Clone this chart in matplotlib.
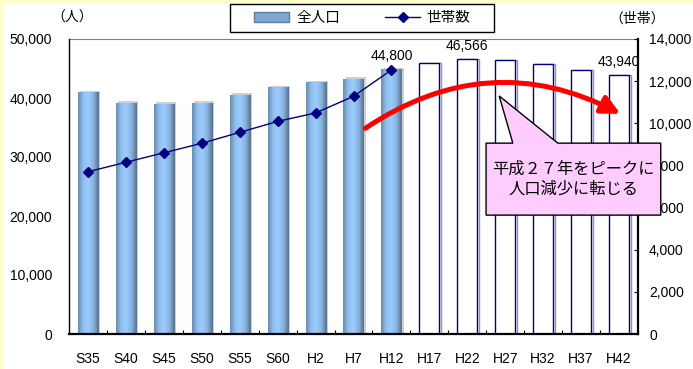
import numpy as np
import matplotlib
matplotlib.use("Agg")
import matplotlib.pyplot as plt
from matplotlib.patches import Polygon, Rectangle, Patch, FancyArrowPatch
from matplotlib.lines import Line2D
from matplotlib.colors import LinearSegmentedColormap
from matplotlib.ticker import FuncFormatter, MultipleLocator

plt.rcParams['font.family'] = ['Liberation Sans', 'Noto Sans CJK JP', 'DejaVu Sans']

# ---- data ----
categories = ['S35', 'S40', 'S45', 'S50', 'S55', 'S60', 'H2', 'H7', 'H12',
              'H17', 'H22', 'H27', 'H32', 'H37', 'H42']
population = [40850, 39150, 38950, 39150, 40500, 41700, 42650, 43200, 44800,
              46000, 46566, 46400, 45700, 44800, 43940]
is_projection = [False]*9 + [True]*6
households = [7700, 8150, 8600, 9050, 9570, 10090, 10490, 11280, 12530]
labelled = {'H12': '44,800', 'H22': '46,566', 'H42': '43,940'}
left_label = '（人）'
right_label = '（世帯）'
legend_labels = ['全人口', '世帯数']
callout_text = '平成２７年をピークに\n人口減少に転じる'

W, H = 693, 369
fig = plt.figure(figsize=(W/100, H/100), dpi=100)
fig.patch.set_facecolor('#FFFFCC')
fig.add_artist(Rectangle((4/W, 0), 1, 1 - 4/H, transform=fig.transFigure,
                         facecolor='white', edgecolor='none', zorder=-10))

L, R, T, B = 69, 638, 39, 334
ax = fig.add_axes([L/W, 1 - B/H, (R-L)/W, (B-T)/H])
ax.set_facecolor('none')
x = np.arange(len(categories))
bw = 0.53

cmap = LinearSegmentedColormap.from_list('bar', ['#6A8CB0', '#92C0EE', '#99CCFF', '#88B2DC', '#56718E'])
grad = np.linspace(0, 1, 64).reshape(1, -1)
for xi, v, proj in zip(x, population, is_projection):
    if proj:
        ax.add_patch(Rectangle((xi - bw/2 + 0.04, 0), bw, v, facecolor='none', edgecolor='#9090D0',
                               lw=1.0, zorder=1.5))
        ax.bar(xi, v, width=bw, facecolor='white', edgecolor='#000080', linewidth=1.0, zorder=2)
    else:
        ax.add_patch(Rectangle((xi - bw/2 + 0.06, 0), bw, v + 300, facecolor='#CFCFCF', edgecolor='none', zorder=1))
        ax.imshow(grad, cmap=cmap, extent=(xi - bw/2, xi + bw/2, 0, v), aspect='auto', zorder=2)

ax.set_xlim(-0.5, len(categories) - 0.5)
ax.set_ylim(0, 50000)
ax.yaxis.set_major_locator(MultipleLocator(10000))
ax.yaxis.set_major_formatter(FuncFormatter(lambda v, p: f'{int(v):,}'))
ax.set_xticks(x)
ax.set_xticklabels(categories)
ax.set_xticks(np.arange(len(categories) + 1) - 0.5, minor=True)
ax.tick_params(axis='x', which='major', length=0, pad=13, labelsize=10)
ax.tick_params(axis='x', which='minor', length=3, direction='in', width=0.8)
ax.tick_params(axis='y', length=0, pad=12, labelsize=10)
for s in ['top', 'right']:
    ax.spines[s].set_visible(False)
ax.spines['left'].set_linewidth(1.0)
ax.spines['bottom'].set_linewidth(1.6)

for c, txt in labelled.items():
    i = categories.index(c)
    ax.annotate(txt, (i, population[i]), xytext=(0, 9.5), textcoords='offset points',
                ha='center', va='center', fontsize=10, zorder=5)

ax2 = ax.twinx()
ax2.set_ylim(0, 14000)
ax2.yaxis.set_major_locator(MultipleLocator(2000))
ax2.yaxis.set_major_formatter(FuncFormatter(lambda v, p: f'{int(v):,}'))
ax2.tick_params(axis='y', length=3, direction='in', pad=8, labelsize=10)
for s in ['top', 'left', 'bottom']:
    ax2.spines[s].set_visible(False)
ax2.spines['right'].set_linewidth(1.6)
ax2.plot(x[:len(households)], households, color='#000080', lw=1.0, marker='D',
         markersize=5.5, zorder=4)

ax.plot([0, 1], [1, 1], transform=ax.transAxes, color='#808080', lw=0.8, clip_on=False)

# red arc arrow
arr = FancyArrowPatch((7.25, 34600), (14.1, 37100), connectionstyle='arc3,rad=-0.3',
                      arrowstyle='-|>,head_length=11,head_width=5.5', color='#FF0000',
                      lw=3.6, mutation_scale=1, zorder=6)
ax.add_patch(arr)

fig.text(72/W, 1 - 18/H, left_label, ha='center', va='center', fontsize=10)
fig.text(637/W, 1 - 19/H, right_label, ha='center', va='center', fontsize=10)

# callout
x0, x1, y0, y1 = 0.733, 1.040, 0.403, 0.647
tip = (0.756, 0.807)
poly = Polygon([(x0, y0), (x0, y1), (0.780, y1), tip, (0.859, y1), (x1, y1), (x1, y0)],
               closed=True, transform=ax.transAxes, facecolor='#FFCCFF',
               edgecolor='black', lw=1.0, zorder=20)
fig.add_artist(poly)
fig.text((x0 + x1)/2, (y0 + y1)/2, callout_text, transform=ax.transAxes,
         ha='center', va='center', fontsize=11.7, family=['Noto Sans CJK JP'],
         linespacing=1.25, zorder=21)

# legend
fig.add_artist(Rectangle((230/W, 1 - 32/H), 264/W, 28/H, transform=fig.transFigure,
                         facecolor='white', edgecolor='black', lw=1.0, zorder=14))
handles = [Patch(facecolor='#7FA7CF', edgecolor='#6080A0'),
           Line2D([], [], color='#000080', lw=1.0, marker='D', markersize=5.5)]
leg = fig.legend(handles, legend_labels, loc='center', bbox_to_anchor=(362.5/W, 1 - 18/H),
                 ncol=2, frameon=False, handlelength=2.4, columnspacing=3.1,
                 borderaxespad=0, borderpad=0, handletextpad=0.45,
                 prop={'family': ['Noto Sans CJK JP'], 'size': 10.5})
leg.set_zorder(15)

fig.savefig('out.png', dpi=100, facecolor=fig.get_facecolor())
